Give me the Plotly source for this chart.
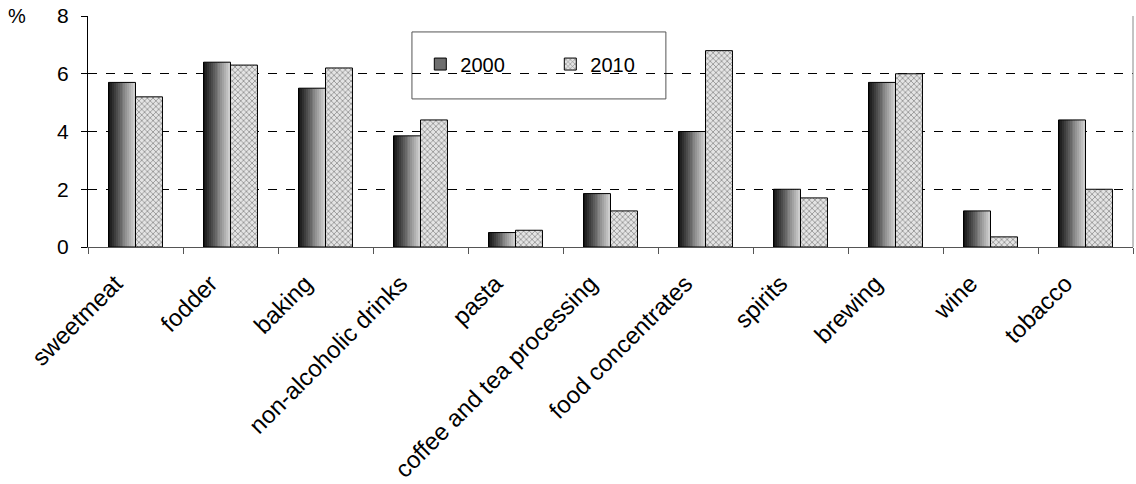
import plotly.graph_objects as go

categories = ["sweetmeat", "fodder", "baking", "non-alcoholic drinks", "pasta",
              "coffee and tea processing", "food concentrates", "spirits",
              "brewing", "wine", "tobacco"]
values_2000 = [5.7, 6.4, 5.5, 3.85, 0.5, 1.85, 4.0, 2.0, 5.7, 1.25, 4.4]
values_2010 = [5.2, 6.3, 6.2, 4.4, 0.58, 1.25, 6.8, 1.7, 6.0, 0.35, 2.0]
y_ticks = [0, 2, 4, 6, 8]

FONT = "Arial, Liberation Sans, sans-serif"
BAR_W = 0.284          # width of one bar in category units
N_SLICES = 14          # slices used to shade the 2000 bars left-to-right

fig = go.Figure()

# 2000 series: horizontal dark-to-light shading built from thin slices
for i in range(N_SLICES):
    t = i / (N_SLICES - 1)
    g = int(20 + t * (205 - 20))
    fig.add_trace(go.Bar(
        x=categories, y=values_2000,
        width=BAR_W / N_SLICES, offset=-BAR_W + i * BAR_W / N_SLICES,
        marker=dict(color=f"rgb({g},{g},{g})", line=dict(width=0)),
        name="2000", legendgroup="2000", showlegend=False, hoverinfo="skip",
    ))

# outline of the 2000 bars
fig.add_trace(go.Bar(
    x=categories, y=values_2000, width=BAR_W, offset=-BAR_W,
    marker=dict(color="rgba(0,0,0,0)", line=dict(color="black", width=1)),
    name="2000", legendgroup="2000", showlegend=False,
))
# legend entry for 2000
fig.add_trace(go.Bar(
    x=[None], y=[None], name="2000", legendgroup="2000",
    marker=dict(color="#6e6e6e", line=dict(color="black", width=1)),
))

# 2010 series: fine dotted texture
fig.add_trace(go.Bar(
    x=categories, y=values_2010, width=BAR_W, offset=0,
    name="2010",
    marker=dict(color="#e4e4e4",
                line=dict(color="black", width=1),
                pattern=dict(shape="x", size=4, solidity=0.3,
                             fgcolor="#7a7a7a", bgcolor="#e4e4e4",
                             fillmode="replace")),
))

fig.update_layout(
    width=1136, height=484,
    margin=dict(l=88, r=3, t=16, b=237),
    paper_bgcolor="white", plot_bgcolor="white",
    barmode="overlay",
    font=dict(family=FONT, size=17, color="black"),
    showlegend=True,
    legend=dict(orientation="h", x=0.318, xanchor="left", y=0.792, yanchor="middle",
                bgcolor="rgba(0,0,0,0)", borderwidth=0,
                font=dict(family=FONT, size=20, color="black"),
                entrywidth=85, traceorder="normal"),
    xaxis=dict(
        type="category", categoryorder="array", categoryarray=categories,
        range=[-0.5, len(categories) - 0.5],
        showline=True, linecolor="#555555", linewidth=1,
        ticks="outside", tickson="boundaries", ticklen=6, tickcolor="#555555",
        tickangle=-45, tickfont=dict(family=FONT, size=24),
        ticklabelstandoff=12, ticklabelshift=-20,
        showgrid=False, zeroline=False, automargin=False,
    ),
    yaxis=dict(
        range=[0, 8], tickvals=y_ticks,
        showline=True, linecolor="black", linewidth=1,
        ticks="outside", ticklen=6, tickcolor="black",
        ticklabelstandoff=8,
        tickfont=dict(family=FONT, size=21),
        showgrid=True, gridcolor="black", griddash="dash", gridwidth=1,
        zeroline=False, automargin=False,
    ),
    shapes=[
        # right border of the plotting area
        dict(type="line", xref="paper", yref="paper", x0=1, x1=1, y0=0, y1=1,
             line=dict(color="#888888", width=1), layer="above"),
        # legend frame
        dict(type="rect", xref="paper", yref="paper",
             x0=0.310, x1=0.553, y0=0.641, y1=0.931,
             line=dict(color="#555555", width=1), fillcolor="white", layer="between"),
    ],
    annotations=[
        dict(text="%", xref="paper", yref="paper", x=-0.068, y=1.0,
             xanchor="center", yanchor="middle", showarrow=False,
             font=dict(family=FONT, size=20, color="black")),
    ],
)

fig.write_html("out.html")
